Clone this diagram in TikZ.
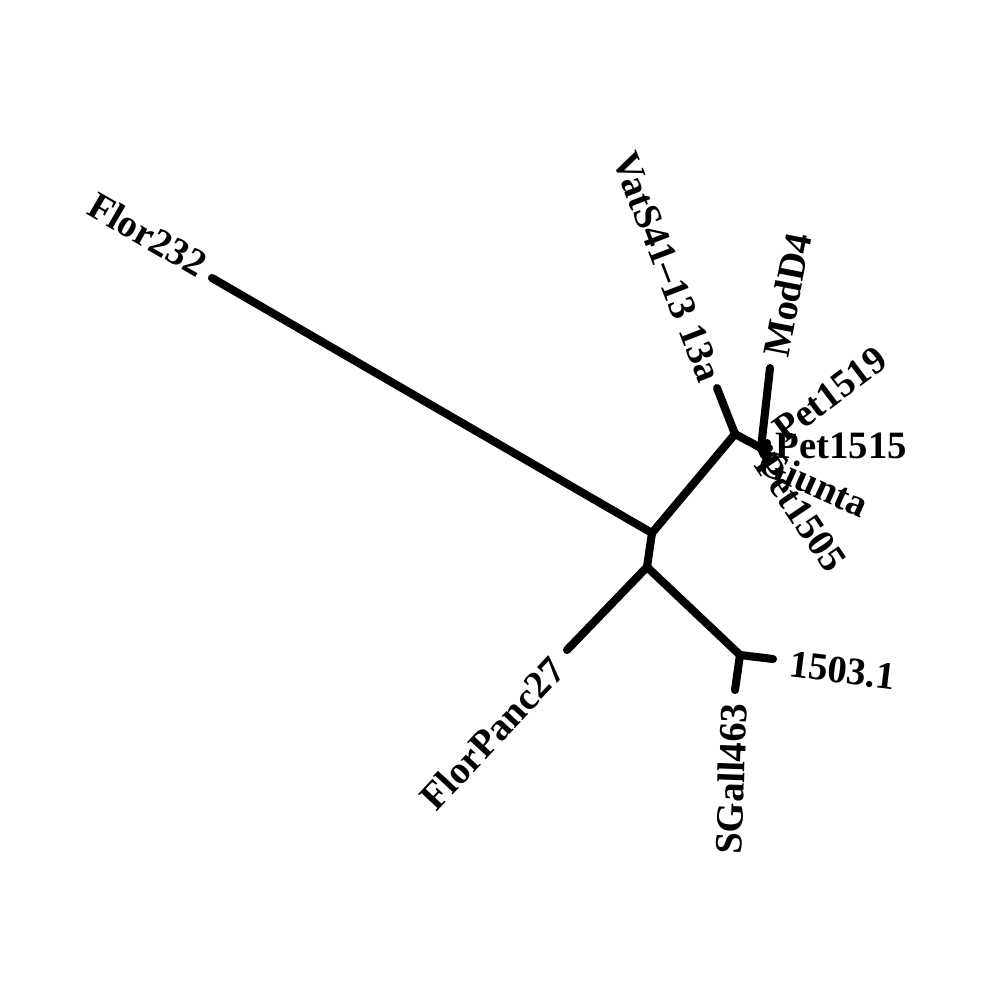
\documentclass[tikz,border=0pt]{standalone}
\usepackage{fontspec}
\setmainfont{Liberation Serif}
\tikzset{
  branch/.style={line width=2.3pt, line cap=round, line join=round},
  taxon/.style={inner sep=0pt, font=\fontsize{11}{13}\selectfont\bfseries}
}

\begin{document}
\begin{tikzpicture}[x=0.01cm, y=-0.01cm]
  \useasboundingbox (0,0) rectangle (1000,1000);
  % internal nodes
  \coordinate (A) at (652,533);
  \coordinate (B) at (647,567);
  \coordinate (C) at (740,655);
  \coordinate (D) at (735,434);
  \coordinate (E) at (761,448);
  % leaves
  \coordinate (Flor) at (212,278);
  \coordinate (Panc) at (567,650);
  \coordinate (Tre) at (773,659);
  \coordinate (SGall) at (735,690);
  \coordinate (Vat) at (717,388);
  \coordinate (Mod) at (770,368);
  \coordinate (P19) at (767,443);
  \coordinate (P15) at (769,448);
  \coordinate (Giu) at (767,453);
  \coordinate (P05) at (764,455);
  % branches
  \draw[branch] (A) -- (Flor);
  \draw[branch] (A) -- (D);
  \draw[branch] (A) -- (B);
  \draw[branch] (B) -- (Panc);
  \draw[branch] (B) -- (C);
  \draw[branch] (C) -- (Tre);
  \draw[branch] (C) -- (SGall);
  \draw[branch] (D) -- (Vat);
  \draw[branch] (D) -- (E);
  \draw[branch] (E) -- (Mod);
  \draw[branch] (E) -- (P19);
  \draw[branch] (E) -- (P15);
  \draw[branch] (E) -- (Giu);
  \draw[branch] (E) -- (P05);
  % labels
  \node[taxon, anchor=east, rotate=-30] (lFlor) at (204,267) {Flor232};
  \node[taxon, anchor=east, rotate=-69] (lVat) at (711,381) {VatS41--13 13a};
  \node[taxon, anchor=west, rotate=79] (lMod) at (775,357) {ModD4};
  \node[taxon, anchor=west, rotate=37] (lP19) at (777,434) {Pet1519};
  \node[taxon, anchor=west] (lP15) at (775,446) {Pet1515};
  \node[taxon, anchor=west, rotate=-24] (lGiu) at (760,459) {Giunta};
  \node[taxon, anchor=west, rotate=-56] (lP05) at (764,458) {Pet1505};
  \node[taxon, anchor=west, rotate=-7] (lTre) at (789,664) {1503.1};
  \node[taxon, anchor=east, rotate=88] (lSGall) at (734,703) {SGall463};
  \node[taxon, anchor=east, rotate=47] (lPanc) at (558,663) {FlorPanc27};
\end{tikzpicture}
\end{document}
